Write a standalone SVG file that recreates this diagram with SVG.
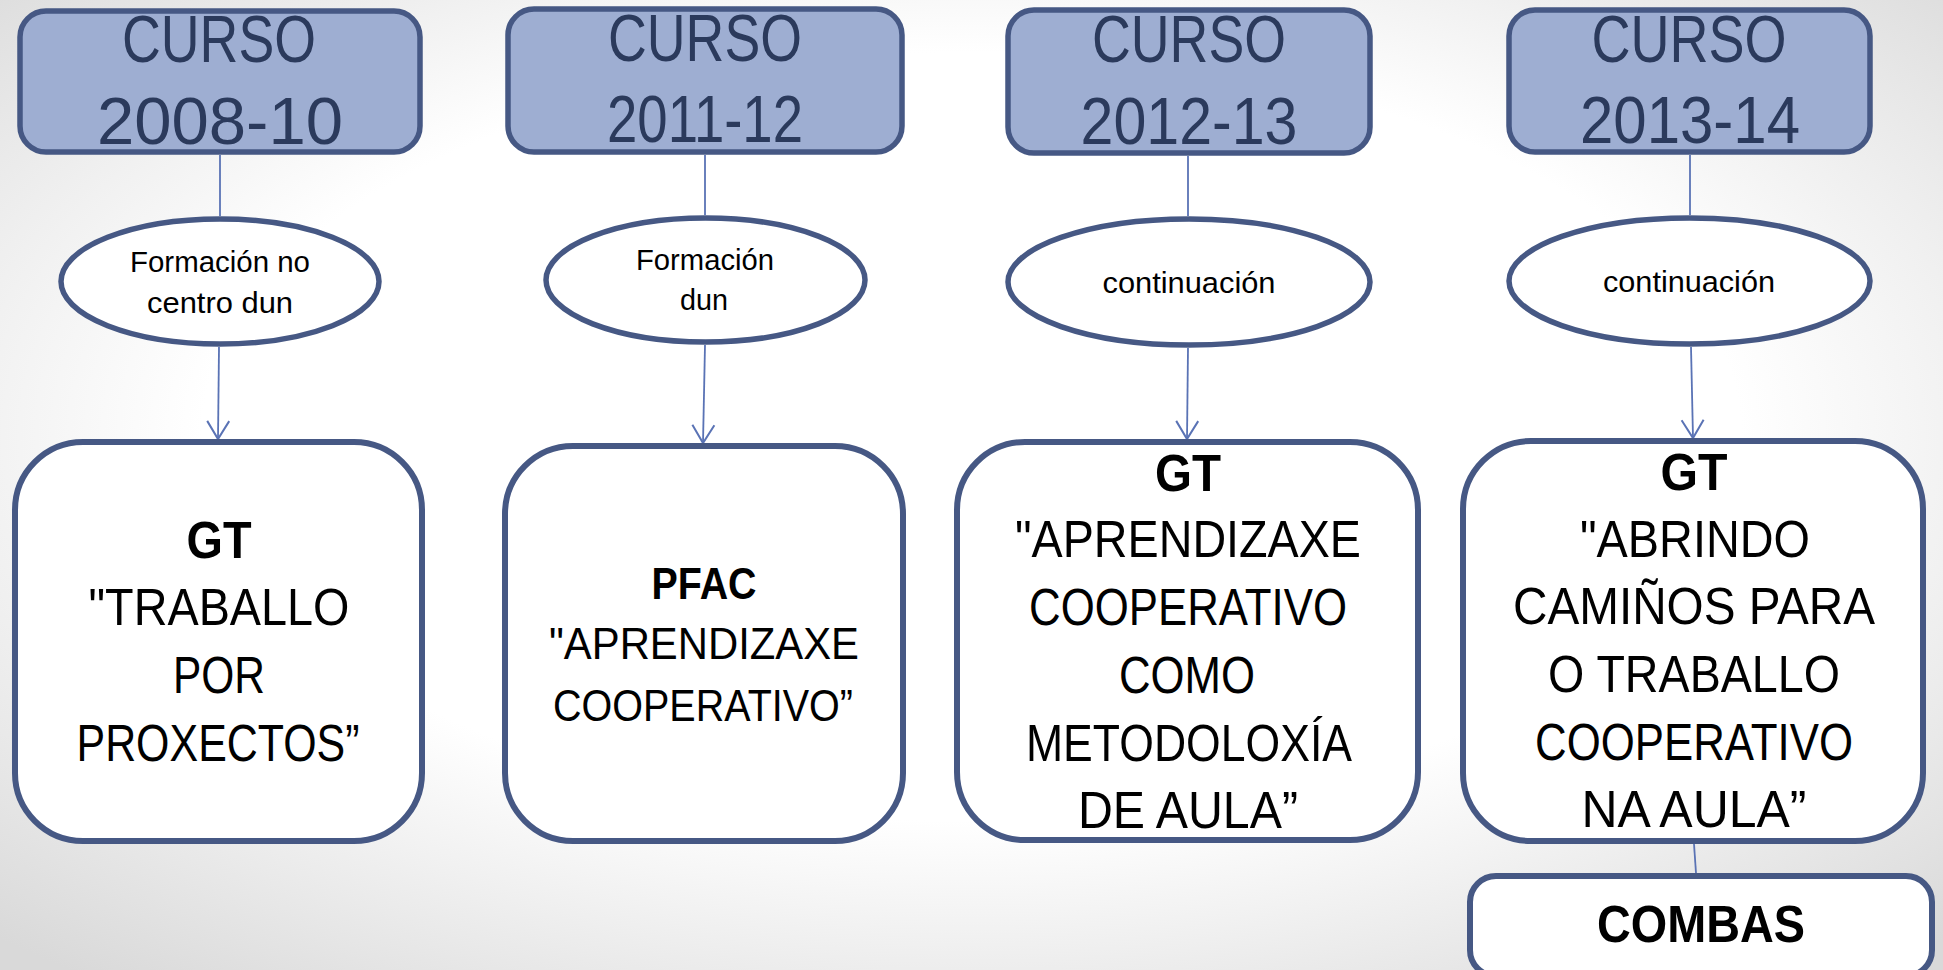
<svg xmlns="http://www.w3.org/2000/svg" width="1943" height="970" viewBox="0 0 1943 970">
<defs>
<radialGradient id="bg" cx="50%" cy="45%" r="72%">
<stop offset="0" stop-color="#ffffff"/>
<stop offset="0.55" stop-color="#ffffff"/>
<stop offset="1" stop-color="#d9d9d9"/>
</radialGradient>
<marker id="arr" viewBox="-20 -13 23 26" markerWidth="23" markerHeight="26" refX="0" refY="0" orient="auto" markerUnits="userSpaceOnUse">
<path d="M-18,-11 L0,0 L-18,11" fill="none" stroke="#5a73b5" stroke-width="2"/>
</marker>
<style>
.hdr{fill:#9eaed2;stroke:#465884;stroke-width:5.5}
.ell{fill:#ffffff;stroke:#465884;stroke-width:5.5}
.box{fill:#ffffff;stroke:#465884;stroke-width:6}
.con{fill:none;stroke:#5a73b5;stroke-width:1.8}
text{font-family:"Liberation Sans",Arial,sans-serif;text-anchor:middle}
.ht{font-size:66px;fill:#2b3a5c}
.et{font-size:29px;fill:#000000}
.bt{font-size:52px;fill:#000000}
.bt2{font-size:45px;fill:#000000}
.b{font-weight:bold}
</style>
</defs>
<rect x="0" y="0" width="1943" height="970" fill="url(#bg)"/>

<g id="connectors">
<line class="con" x1="220" y1="155" x2="220" y2="216"/>
<line class="con" x1="219" y1="347" x2="218" y2="439" marker-end="url(#arr)"/>
<line class="con" x1="705" y1="155" x2="705" y2="215"/>
<line class="con" x1="705" y1="345" x2="703" y2="443" marker-end="url(#arr)"/>
<line class="con" x1="1188" y1="156" x2="1188" y2="216"/>
<line class="con" x1="1188" y1="348" x2="1187" y2="439" marker-end="url(#arr)"/>
<line class="con" x1="1690" y1="155" x2="1690" y2="215"/>
<line class="con" x1="1691" y1="347" x2="1693" y2="438" marker-end="url(#arr)"/>
<line class="con" x1="1694" y1="844" x2="1696" y2="873"/>
</g>

<g id="curso-2008-10">
<rect class="hdr" x="20" y="11" width="400" height="141" rx="26"/>
<text class="ht" x="219" y="62" textLength="194" lengthAdjust="spacingAndGlyphs">CURSO</text>
<text class="ht" x="220" y="144" textLength="246" lengthAdjust="spacingAndGlyphs">2008-10</text>
</g>
<g id="curso-2011-12">
<rect class="hdr" x="508" y="9" width="394" height="143" rx="26"/>
<text class="ht" x="705" y="61" textLength="194" lengthAdjust="spacingAndGlyphs">CURSO</text>
<text class="ht" x="705" y="142" textLength="196" lengthAdjust="spacingAndGlyphs">2011-12</text>
</g>
<g id="curso-2012-13">
<rect class="hdr" x="1008" y="10" width="362" height="143" rx="26"/>
<text class="ht" x="1189" y="62" textLength="194" lengthAdjust="spacingAndGlyphs">CURSO</text>
<text class="ht" x="1189" y="144" textLength="217" lengthAdjust="spacingAndGlyphs">2012-13</text>
</g>
<g id="curso-2013-14">
<rect class="hdr" x="1509" y="10" width="361" height="142" rx="26"/>
<text class="ht" x="1689" y="62" textLength="195" lengthAdjust="spacingAndGlyphs">CURSO</text>
<text class="ht" x="1690" y="143" textLength="220" lengthAdjust="spacingAndGlyphs">2013-14</text>
</g>

<g id="ell-1">
<ellipse class="ell" cx="220" cy="281.5" rx="159" ry="62.5"/>
<text class="et" x="220" y="272" textLength="180" lengthAdjust="spacingAndGlyphs">Formación no</text>
<text class="et" x="220" y="313" textLength="146" lengthAdjust="spacingAndGlyphs">centro dun</text>
</g>
<g id="ell-2">
<ellipse class="ell" cx="705.5" cy="280" rx="159.5" ry="62"/>
<text class="et" x="705" y="270" textLength="138" lengthAdjust="spacingAndGlyphs">Formación</text>
<text class="et" x="704" y="310" textLength="48" lengthAdjust="spacingAndGlyphs">dun</text>
</g>
<g id="ell-3">
<ellipse class="ell" cx="1189" cy="282" rx="181" ry="63"/>
<text class="et" x="1189" y="293" textLength="173" lengthAdjust="spacingAndGlyphs">continuación</text>
</g>
<g id="ell-4">
<ellipse class="ell" cx="1689.5" cy="281" rx="180.5" ry="63"/>
<text class="et" x="1689" y="292" textLength="172" lengthAdjust="spacingAndGlyphs">continuación</text>
</g>

<g id="box-1">
<rect class="box" x="15" y="442" width="407" height="399" rx="68"/>
<text class="bt b" x="219" y="558" textLength="65" lengthAdjust="spacingAndGlyphs">GT</text>
<text class="bt" x="219" y="625" textLength="261" lengthAdjust="spacingAndGlyphs">"TRABALLO</text>
<text class="bt" x="219" y="693" textLength="92" lengthAdjust="spacingAndGlyphs">POR</text>
<text class="bt" x="218" y="761" textLength="283" lengthAdjust="spacingAndGlyphs">PROXECTOS”</text>
</g>
<g id="box-2">
<rect class="box" x="505" y="446" width="398" height="395" rx="68"/>
<text class="bt2 b" x="704" y="599" textLength="105" lengthAdjust="spacingAndGlyphs">PFAC</text>
<text class="bt2" x="704" y="659" textLength="310" lengthAdjust="spacingAndGlyphs">"APRENDIZAXE</text>
<text class="bt2" x="703" y="721" textLength="300" lengthAdjust="spacingAndGlyphs">COOPERATIVO”</text>
</g>
<g id="box-3">
<rect class="box" x="957" y="442" width="461" height="398" rx="68"/>
<text class="bt b" x="1188" y="491" textLength="66" lengthAdjust="spacingAndGlyphs">GT</text>
<text class="bt" x="1188" y="557" textLength="346" lengthAdjust="spacingAndGlyphs">"APRENDIZAXE</text>
<text class="bt" x="1188" y="625" textLength="318" lengthAdjust="spacingAndGlyphs">COOPERATIVO</text>
<text class="bt" x="1187" y="693" textLength="136" lengthAdjust="spacingAndGlyphs">COMO</text>
<text class="bt" x="1189" y="761" textLength="326" lengthAdjust="spacingAndGlyphs">METODOLOXÍA</text>
<text class="bt" x="1188" y="828" textLength="220" lengthAdjust="spacingAndGlyphs">DE AULA”</text>
</g>
<g id="box-4">
<rect class="box" x="1463" y="441" width="460" height="400" rx="68"/>
<text class="bt b" x="1694" y="490" textLength="67" lengthAdjust="spacingAndGlyphs">GT</text>
<text class="bt" x="1695" y="557" textLength="230" lengthAdjust="spacingAndGlyphs">"ABRINDO</text>
<text class="bt" x="1694" y="624" textLength="362" lengthAdjust="spacingAndGlyphs">CAMIÑOS PARA</text>
<text class="bt" x="1694" y="692" textLength="292" lengthAdjust="spacingAndGlyphs">O TRABALLO</text>
<text class="bt" x="1694" y="760" textLength="318" lengthAdjust="spacingAndGlyphs">COOPERATIVO</text>
<text class="bt" x="1694" y="827" textLength="225" lengthAdjust="spacingAndGlyphs">NA AULA”</text>
</g>
<g id="combas">
<rect class="box" x="1470" y="876" width="462" height="100" rx="26"/>
<text class="bt b" x="1701" y="942" textLength="208" lengthAdjust="spacingAndGlyphs">COMBAS</text>
</g>
</svg>
